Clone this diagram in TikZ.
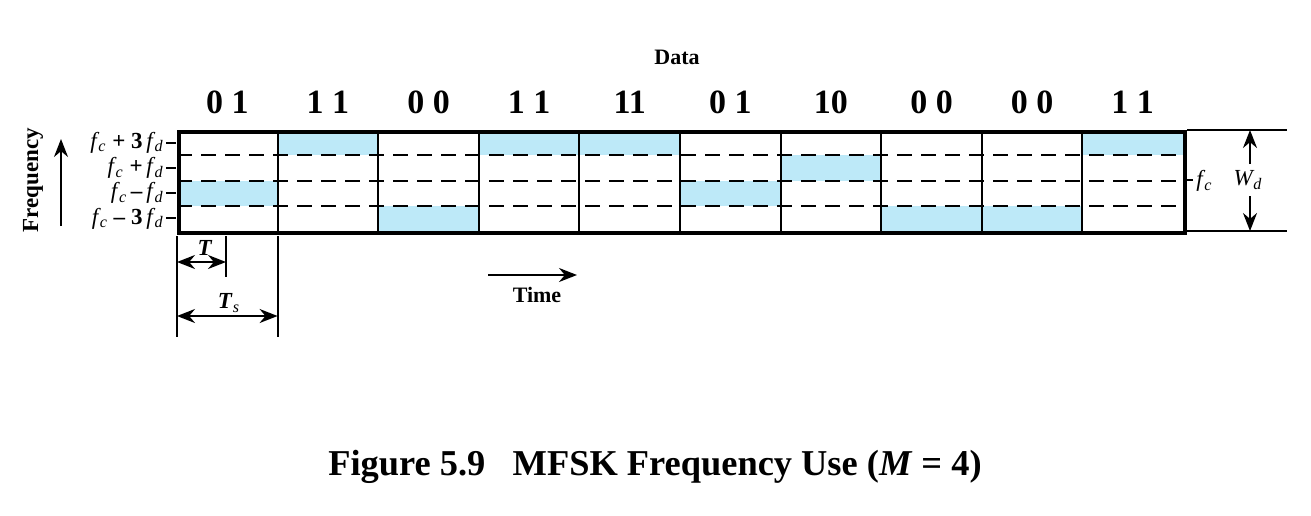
\documentclass[tikz,border=0pt]{standalone}
\usepackage{fontspec}
\setmainfont{Liberation Serif}
\usetikzlibrary{arrows.meta}
\definecolor{band}{HTML}{BDE9F8}
\tikzset{
  thin line/.style={line width=1pt},
  dash line/.style={line width=1pt, dash pattern=on 7.5pt off 4.5pt},
  arr/.style={line width=1pt, -{Stealth[length=9pt,width=7pt]}},
  darr/.style={line width=1pt, {Stealth[length=9pt,width=7pt]}-{Stealth[length=9pt,width=7pt]}},
  lbl/.style={inner sep=0pt, font=\fontsize{11.5}{13}\selectfont},
  digit/.style={inner sep=0pt, font=\fontsize{17}{19}\selectfont\bfseries},
}
\newcommand{\fsym}[1]{\textit{f}\textsubscript{\kern-0.5pt\textit{#1}}}
\begin{document}
\begin{tikzpicture}[x=0.5pt,y=-0.5pt]
\useasboundingbox (0,0) rectangle (1311,515);
\pgfmathsetmacro{\L}{177}
\pgfmathsetmacro{\R}{1183}
\pgfmathsetmacro{\T}{130}
\pgfmathsetmacro{\B}{231}
\pgfmathsetmacro{\cw}{100.6}
\pgfmathsetmacro{\rh}{25.25}
% bands and data labels
\foreach \r/\t [count=\i] in {3/0 1,1/1 1,4/0 0,1/1 1,1/11,3/0 1,2/10,4/0 0,4/0 0,1/1 1}{
  \fill[band] ({\L+(\i-1)*\cw},{\T+(\r-1)*\rh}) rectangle ({\L+\i*\cw},{\T+\r*\rh});
  \node[digit] (d\i) at ({\L+(\i-0.5)*\cw},102) {\t};
}
% dashed rows
\foreach \j in {1,2,3}{
  \draw[dash line] (\L,{\T+\j*\rh}) -- (\R,{\T+\j*\rh});
}
% column lines
\foreach \i in {1,...,9}{
  \draw[thin line] ({\L+\i*\cw},\T) -- ({\L+\i*\cw},\B);
}
% outline
\node[draw, line width=2pt, inner sep=0pt, minimum width=503pt, minimum height=50.5pt, anchor=north west] (box) at (\L,\T) {};
% left labels with ticks
\foreach \j/\t in {1/{\fsym{c} \textbf{+} \textbf{3}\,\fsym{d}},2/{\fsym{c} \textbf{+}\,\fsym{d}},3/{\fsym{c}\,\textbf{\textendash}\,\fsym{d}},4/{\fsym{c} \textbf{\textendash} \textbf{3}\,\fsym{d}}}{
  \coordinate (tk\j) at (166,{\T+(\j-0.5)*\rh});
  \draw[thin line] (tk\j) -- ++(10,0);
  \node[lbl, anchor=east] (fl\j) at ([xshift=-1pt]tk\j) {\t};
}
% Frequency
\node[lbl, rotate=90, font=\fontsize{11.5}{13}\selectfont\bfseries] (freq) at (33,180) {Frequency};
\coordinate (fa) at (61,226);
\coordinate (fb) at (61,139);
\draw[arr] (fa) -- (fb);
% Data
\node[lbl, font=\fontsize{11}{12}\selectfont\bfseries] (data) at (677,57) {Data};
% right side
\coordinate (rt1) at (1187,\T); \coordinate (rt2) at (1287,\T);
\coordinate (rb1) at (1187,\B); \coordinate (rb2) at (1287,\B);
\draw[thin line] (rt1) -- (rt2);
\draw[thin line] (rb1) -- (rb2);
\coordinate (fct) at (\R,180);
\draw[thin line] (fct) -- ++(10,0);
\node[lbl, anchor=west] (fc) at (1196,181) {\fsym{c}};
\node[lbl] (wd) at (1248,180) {\textit{W}\textsubscript{\kern-0.5pt\textit{d}}};
\coordinate (wt) at (1250,\T);
\coordinate (wb) at (1250,\B);
\coordinate (wm1) at (1250,164);
\coordinate (wm2) at (1250,196);
\draw[arr] (wm1) -- (wt);
\draw[arr] (wm2) -- (wb);
% T and Ts
\coordinate (v1a) at (\L,236); \coordinate (v1b) at (\L,337);
\coordinate (v2a) at (226,236); \coordinate (v2b) at (226,277);
\coordinate (v3a) at ({\L+\cw},236); \coordinate (v3b) at ({\L+\cw},337);
\draw[thin line] (v1a) -- (v1b);
\draw[thin line] (v2a) -- (v2b);
\draw[thin line] (v3a) -- (v3b);
\coordinate (ta) at (\L,262); \coordinate (tb) at (226,262);
\draw[darr] (ta) -- (tb);
\node[lbl, anchor=south] (tl) at (205,256) {\textit{\textbf{T}}};
\coordinate (tsa) at (\L,316); \coordinate (tsb) at ({\L+\cw},316);
\draw[darr] (tsa) -- (tsb);
\node[lbl] (tsl) at (229,303) {\textit{\textbf{T}}\textsubscript{\textit{s}}};
% Time
\coordinate (tma) at (488,275); \coordinate (tmb) at (577,275);
\draw[arr] (tma) -- (tmb);
\node[lbl, font=\fontsize{11}{12}\selectfont\bfseries] (time) at (537,295) {Time};
% caption
\node[inner sep=0pt, font=\fontsize{18.2}{21}\selectfont\bfseries] (cap) at (655,467) {Figure 5.9\hspace{0.75em}MFSK Frequency Use (\textit{M} = 4)};
\end{tikzpicture}
\end{document}
